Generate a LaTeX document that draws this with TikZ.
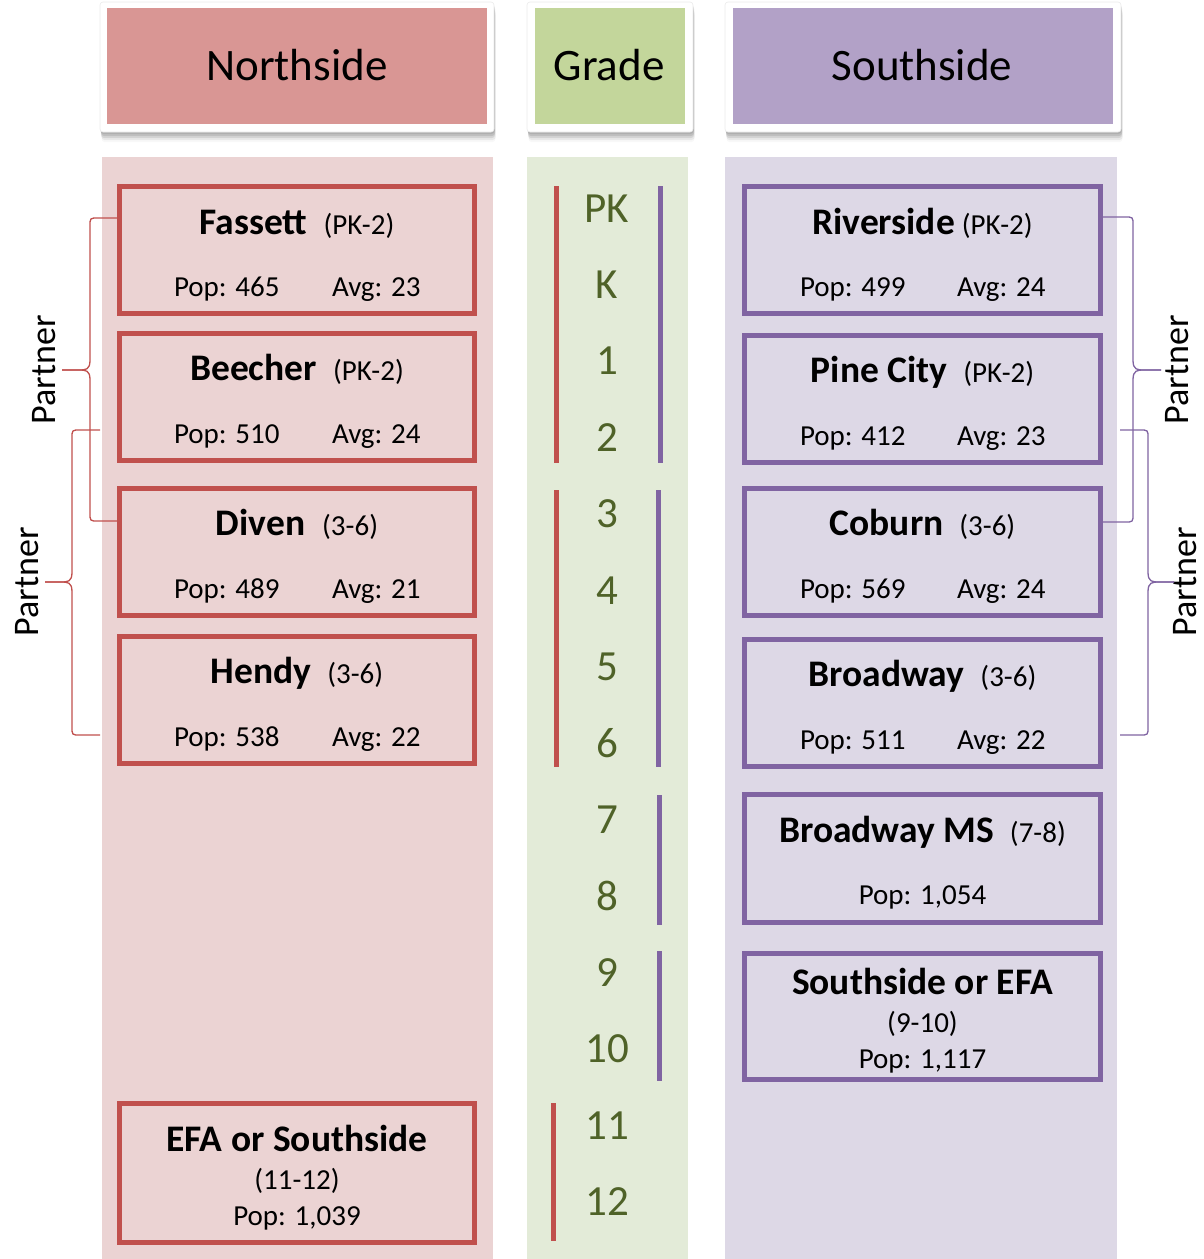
\documentclass[tikz,border=0pt]{standalone}
\usepackage{fontspec}
\setmainfont{Carlito}
\usetikzlibrary{shadows,calc}
\definecolor{nred}{HTML}{C0504D}
\definecolor{nhead}{HTML}{D99694}
\definecolor{npanel}{HTML}{EBD3D3}
\definecolor{ghead}{HTML}{C3D69B}
\definecolor{gpanel}{HTML}{E3EBD8}
\definecolor{gtext}{HTML}{4F6228}
\definecolor{spurple}{HTML}{8064A2}
\definecolor{shead}{HTML}{B2A1C7}
\definecolor{spanel}{HTML}{DDD8E6}
\newcommand{\myhead}{\fontsize{45}{54}\selectfont}
\newcommand{\mytitle}{\fontsize{37.5}{44}\selectfont\bfseries}
\newcommand{\mybody}{\fontsize{29}{34}\selectfont}
\newcommand{\mygrade}{\fontsize{43}{50}\selectfont}
\newcommand{\mypart}{\fontsize{36}{42}\selectfont}
\begin{document}
\begin{tikzpicture}[x=1pt,y=-1pt,
  every node/.style={inner sep=0pt, outer sep=0pt},
  hdrout/.style={fill=white, draw=black!8, line width=0.6pt, rounded corners=3pt,
    minimum height=130pt,
    drop shadow={shadow xshift=0.5pt, shadow yshift=-2pt, opacity=0.25},
    drop shadow={shadow xshift=1pt, shadow yshift=-4pt, opacity=0.25},
    drop shadow={shadow xshift=1pt, shadow yshift=-6pt, opacity=0.2},
    drop shadow={shadow xshift=1.5pt, shadow yshift=-8pt, opacity=0.12},
    drop shadow={shadow xshift=1.5pt, shadow yshift=-10pt, opacity=0.06}},
  hdrin/.style={minimum height=116pt},
  panelbox/.style={anchor=north west, minimum height=1102pt},
  nbox/.style={draw=nred, line width=5pt, outer sep=2.5pt, minimum width=355pt},
  sbox/.style={draw=spurple, line width=5pt, outer sep=2.5pt, minimum width=356pt},
  ttl/.style={anchor=base, font=\mybody},
  body/.style={anchor=base west, font=\mybody},
  bodyc/.style={anchor=base, font=\mybody},
  grade/.style={anchor=base, font=\mygrade, text=gtext},
  part/.style={anchor=base, rotate=90, font=\mypart},
  redline/.style={draw=nred, line width=5pt},
  purpline/.style={draw=spurple, line width=5pt},
  nbrace/.style={draw=nred, line width=1.3pt},
  sbrace/.style={draw=spurple, line width=1.3pt}]
\useasboundingbox (0,0) rectangle (1204,1259);

% panels
\node[panelbox, fill=npanel, minimum width=391pt] (npan) at (102,157) {};
\node[panelbox, fill=gpanel, minimum width=161pt] (gpan) at (527,157) {};
\node[panelbox, fill=spanel, minimum width=392pt] (span) at (725,157) {};

% headers
\node[hdrout, minimum width=394pt] (nhdr) at (297,67) {};
\node[hdrin, fill=nhead, minimum width=380pt] (nhfill) at (297,66) {};
\node[anchor=base, font=\myhead] (nht) at (297,80) {Northside};
\node[hdrout, minimum width=166pt] (ghdr) at (610,67) {};
\node[hdrin, fill=ghead, minimum width=150pt] (ghfill) at (610,66) {};
\node[anchor=base, font=\myhead] (ght) at (609,80) {Grade};
\node[hdrout, minimum width=396pt] (shdr) at (923,67) {};
\node[hdrin, fill=shead, minimum width=380pt] (shfill) at (923,66) {};
\node[anchor=base, font=\myhead] (sht) at (922,80) {Southside};

% Northside boxes
\node[nbox, minimum height=127pt] (fassett) at (297,250) {};
\node[ttl] (fassettT) at ($(fassett.north)+(0,50)$) {{\mytitle Fassett}\hspace{16pt}(PK-2)};
\node[body] (fassettP) at ($(fassett.north west)+(57,112)$) {Pop: 465};
\node[body] (fassettA) at ($(fassett.north west)+(215,112)$) {Avg: 23};

\node[nbox, minimum height=127pt] (beecher) at (297,397) {};
\node[ttl] (beecherT) at ($(beecher.north)+(0,49)$) {{\mytitle Beecher}\hspace{16pt}(PK-2)};
\node[body] (beecherP) at ($(beecher.north west)+(57,112)$) {Pop: 510};
\node[body] (beecherA) at ($(beecher.north west)+(215,112)$) {Avg: 24};

\node[nbox, minimum height=127pt] (diven) at (297,552) {};
\node[ttl] (divenT) at ($(diven.north)+(0,49)$) {{\mytitle Diven}\hspace{17pt}(3-6)};
\node[body] (divenP) at ($(diven.north west)+(57,112)$) {Pop: 489};
\node[body] (divenA) at ($(diven.north west)+(215,112)$) {Avg: 21};

\node[nbox, minimum height=127pt] (hendy) at (297,700) {};
\node[ttl] (hendyT) at ($(hendy.north)+(0,49)$) {{\mytitle Hendy}\hspace{16pt}(3-6)};
\node[body] (hendyP) at ($(hendy.north west)+(57,112)$) {Pop: 538};
\node[body] (hendyA) at ($(hendy.north west)+(215,112)$) {Avg: 22};

\node[nbox, minimum height=139pt] (efa) at (297,1173) {};
\node[anchor=base, font=\mytitle] (efaT) at (297,1151) {EFA or Southside};
\node[bodyc] (efaG) at (297,1189) {(11-12)};
\node[bodyc] (efaP) at (297,1225) {Pop: 1,039};

% Southside boxes
\node[sbox, minimum height=127pt] (riverside) at (922.5,250) {};
\node[ttl] (riversideT) at ($(riverside.north)+(0,50)$) {{\mytitle Riverside}\hspace{7pt}(PK-2)};
\node[body] (riversideP) at ($(riverside.north west)+(58,112)$) {Pop: 499};
\node[body] (riversideA) at ($(riverside.north west)+(215,112)$) {Avg: 24};

\node[sbox, minimum height=127pt] (pinecity) at (922.5,399) {};
\node[ttl] (pinecityT) at ($(pinecity.north)+(0,49)$) {{\mytitle Pine City}\hspace{16pt}(PK-2)};
\node[body] (pinecityP) at ($(pinecity.north west)+(58,112)$) {Pop: 412};
\node[body] (pinecityA) at ($(pinecity.north west)+(215,112)$) {Avg: 23};

\node[sbox, minimum height=127pt] (coburn) at (922.5,552) {};
\node[ttl] (coburnT) at ($(coburn.north)+(0,49)$) {{\mytitle Coburn}\hspace{16pt}(3-6)};
\node[body] (coburnP) at ($(coburn.north west)+(58,112)$) {Pop: 569};
\node[body] (coburnA) at ($(coburn.north west)+(215,112)$) {Avg: 24};

\node[sbox, minimum height=127pt] (broadway) at (922.5,703) {};
\node[ttl] (broadwayT) at ($(broadway.north)+(0,49)$) {{\mytitle Broadway}\hspace{16pt}(3-6)};
\node[body] (broadwayP) at ($(broadway.north west)+(58,112)$) {Pop: 511};
\node[body] (broadwayA) at ($(broadway.north west)+(215,112)$) {Avg: 22};

\node[sbox, minimum height=128pt] (bms) at (922.5,858.5) {};
\node[ttl] (bmsT) at ($(bms.north)+(0,50)$) {{\mytitle Broadway MS}\hspace{16pt}(7-8)};
\node[bodyc] (bmsP) at ($(bms.north)+(0,112)$) {Pop: 1,054};

\node[sbox, minimum height=126pt] (sefa) at (922.5,1016.5) {};
\node[anchor=base, font=\mytitle] (sefaT) at (922.5,994) {Southside or EFA};
\node[bodyc] (sefaG) at (922.5,1032) {(9-10)};
\node[bodyc] (sefaP) at (922.5,1068) {Pop: 1,117};

% grades
\node[grade] (gPK) at (607,222) {PK};
\node[grade] (gK) at (607,298) {K};
\node[grade] (g1) at (607,374) {1};
\node[grade] (g2) at (607,451) {2};
\node[grade] (g3) at (607,527) {3};
\node[grade] (g4) at (607,604) {4};
\node[grade] (g5) at (607,680) {5};
\node[grade] (g6) at (607,757) {6};
\node[grade] (g7) at (607,833) {7};
\node[grade] (g8) at (607,910) {8};
\node[grade] (g9) at (607,986) {9};
\node[grade] (g10) at (607,1062) {10};
\node[grade] (g11) at (607,1139) {11};
\node[grade] (g12) at (607,1215) {12};

% grade bars
\draw[redline] (556,186) -- (556,463);
\draw[redline] (556,490) -- (556,767);
\draw[redline] (553,1103) -- (553,1241);
\draw[purpline] (660,186) -- (660,463);
\draw[purpline] (658,490) -- (658,767);
\draw[purpline] (659,795) -- (659,925);
\draw[purpline] (659,951) -- (659,1081);

% partner labels
\node[part] (pA) at (55,370) {Partner};
\node[part] (pB) at (38,582) {Partner};
\node[part] (pC) at (1188,370) {Partner};
\node[part] (pD) at (1196,582) {Partner};

% left braces
\coordinate (bA1) at ($(fassett.north west)+(0,34)$);
\coordinate (bA2) at ($(diven.north west)+(0,35)$);
\coordinate (tA) at ($(pA.base)+(7,0)$);
\draw[nbrace] (bA1) -- (98,218) .. controls (90,218) .. (90,226) -- (90,360)
  .. controls (90,370) and (86,370) .. (78,370) -- (tA);
\draw[nbrace] (tA) -- (78,370) .. controls (86,370) and (90,370) .. (90,380)
  -- (90,513) .. controls (90,521) .. (98,521) -- (bA2);

\coordinate (bB1) at ($(beecher.north west)+(-17,99)$);
\coordinate (bB2) at ($(hendy.north west)+(-17,101)$);
\coordinate (tB) at ($(pB.base)+(7,0)$);
\draw[nbrace] (bB1) -- (80,430) .. controls (72,430) .. (72,438) -- (72,572)
  .. controls (72,582) and (68,582) .. (60,582) -- (tB);
\draw[nbrace] (tB) -- (60,582) .. controls (68,582) and (72,582) .. (72,592)
  -- (72,727) .. controls (72,735) .. (80,735) -- (bB2);

% right braces
\coordinate (bC1) at ($(riverside.north east)+(0,33)$);
\coordinate (bC2) at ($(coburn.north east)+(0,36)$);
\coordinate (tC) at ($(pC.base)+(-27,0)$);
\draw[sbrace] (bC1) -- (1125,217) .. controls (1133,217) .. (1133,225) -- (1133,360)
  .. controls (1133,370) and (1137,370) .. (1145,370) -- (tC);
\draw[sbrace] (tC) -- (1145,370) .. controls (1137,370) and (1133,370) .. (1133,380)
  -- (1133,514) .. controls (1133,522) .. (1125,522) -- (bC2);

\coordinate (bD1) at ($(pinecity.north east)+(17,97)$);
\coordinate (bD2) at ($(broadway.north east)+(17,98)$);
\coordinate (tD) at ($(pD.base)+(-22,0)$);
\draw[sbrace] (bD1) -- (1140,430) .. controls (1148,430) .. (1148,438) -- (1148,572)
  .. controls (1148,582) and (1152,582) .. (1160,582) -- (tD);
\draw[sbrace] (tD) -- (1160,582) .. controls (1152,582) and (1148,582) .. (1148,592)
  -- (1148,727) .. controls (1148,735) .. (1140,735) -- (bD2);
\end{tikzpicture}
\end{document}
